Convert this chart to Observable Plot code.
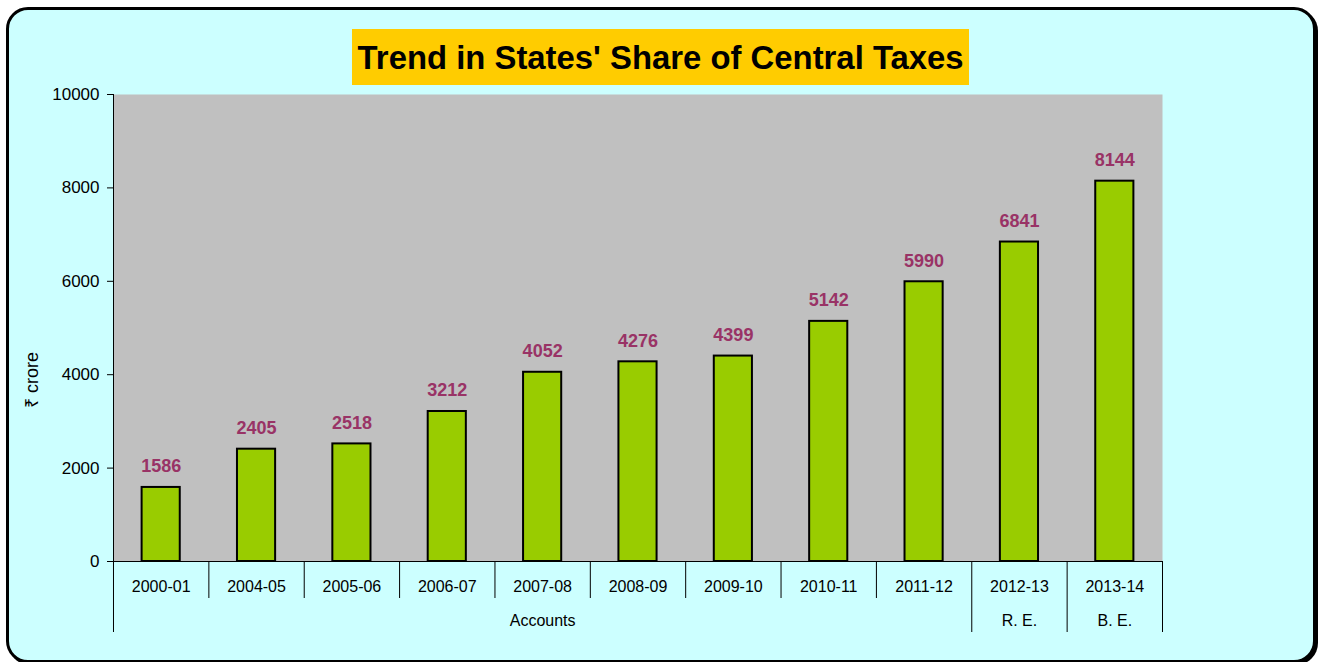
<!DOCTYPE html>
<html><head><meta charset="utf-8">
<script src="https://cdn.jsdelivr.net/npm/d3@7"></script>
<script src="https://cdn.jsdelivr.net/npm/@observablehq/plot@0.6"></script>
<style>
body{margin:0;background:#fff;width:1327px;height:662px;overflow:hidden;position:relative;font-family:"Liberation Sans",Arial,sans-serif;}
#panel{position:absolute;left:6px;top:7px;width:1310px;height:656px;box-sizing:border-box;border:3px solid #000;border-radius:22px;background:#CCFFFF;box-shadow:2px 2px 0 #000;}
#title{position:absolute;left:352px;top:29px;width:617px;height:56px;background:#FFCC00;display:flex;align-items:center;justify-content:center;overflow:hidden}
#title span{font-weight:bold;font-size:34px;line-height:1;white-space:nowrap;display:inline-block;color:#000;transform-origin:center}
#chart{position:absolute;left:0;top:0}
</style></head><body>
<div id="panel"></div>
<div id="chart"></div>
<div id="title"><span id="tt">Trend in States' Share of Central Taxes</span></div>
<script>
const categories = ["2000-01","2004-05","2005-06","2006-07","2007-08","2008-09","2009-10","2010-11","2011-12","2012-13","2013-14"];
const values = [1586,2405,2518,3212,4052,4276,4399,5142,5990,6841,8144];
const groups = ["Accounts","Accounts","Accounts","Accounts","Accounts","Accounts","Accounts","Accounts","Accounts","R. E.","B. E."];
const yTicks = [0,2000,4000,6000,8000,10000];
const yLabel = "₹ crore";

const W = 1327, H = 662, mL = 113, mR = 165, mT = 94, mB = 101;
const step = (W - mL - mR) / categories.length;

const data = categories.map((c, i) => ({category: c, value: values[i], group: groups[i]}));
const boundaries = categories.map((c, i) => ({category: c, tall: i === 0 || groups[i] !== groups[i - 1]}));
const groupNames = [...new Set(groups)];
const groupLabels = groupNames.map(g => {
  const idx = groups.map((x, i) => x === g ? i : -1).filter(i => i >= 0);
  const mid = (idx[0] + idx[idx.length - 1]) / 2;
  return {label: g, category: categories[Math.floor(mid)]};
});

const font = '"Liberation Sans", Arial, sans-serif';
const chart = Plot.plot({
  width: W, height: H,
  marginLeft: mL, marginRight: mR, marginTop: mT, marginBottom: mB,
  style: {background: "transparent", fontFamily: font, fontSize: "16px", color: "#000", overflow: "visible"},
  x: {domain: categories, paddingInner: 0.6, paddingOuter: 0.3, round: false, axis: null},
  y: {domain: [0, 10000], axis: null},
  marks: [
    Plot.frame({fill: "#C0C0C0", stroke: null}),
    Plot.axisY({ticks: yTicks, tickSize: 6, tickPadding: 8, fontSize: 17, label: null, tickFormat: d => String(d), stroke: "#000"}),
    Plot.barY(data, {x: "category", y: "value", fill: "#99CC00", stroke: "#000", strokeWidth: 2}),
    Plot.text(data, {x: "category", y: "value", text: d => String(d.value), dy: -21, fill: "#993366", fontWeight: "bold", fontSize: 18}),
    Plot.ruleY([0], {insetLeft: -6, stroke: "#000"}),
    Plot.frame({anchor: "left", stroke: "#000"}),
    Plot.ruleX(boundaries.filter(d => !d.tall), {x: "category", dx: -step / 2, insetTop: H - mT - mB, insetBottom: -37, stroke: "#000"}),
    Plot.ruleX(boundaries.filter(d => d.tall), {x: "category", dx: -step / 2, insetTop: H - mT - mB, insetBottom: -71, stroke: "#000"}),
    Plot.ruleX([categories[categories.length - 1]], {x: d => d, dx: step / 2, insetTop: H - mT - mB, insetBottom: -71, stroke: "#000"}),
    Plot.text(categories, {x: d => d, frameAnchor: "bottom", lineAnchor: "middle", dy: 25, fontSize: 16, fill: "#000"}),
    Plot.text(groupLabels, {x: "category", text: "label", frameAnchor: "bottom", lineAnchor: "middle", dy: 59, fontSize: 16, fill: "#000"}),
    Plot.text([yLabel], {frameAnchor: "left", textAnchor: "middle", rotate: -90, dx: -81, dy: 52, fontSize: 18, fill: "#000"})
  ]
});
document.getElementById("chart").appendChild(chart);

const sp = document.getElementById("tt");
const w = sp.getBoundingClientRect().width;
sp.style.transform = `scaleX(${606 / w})`;
</script>
</body></html>
